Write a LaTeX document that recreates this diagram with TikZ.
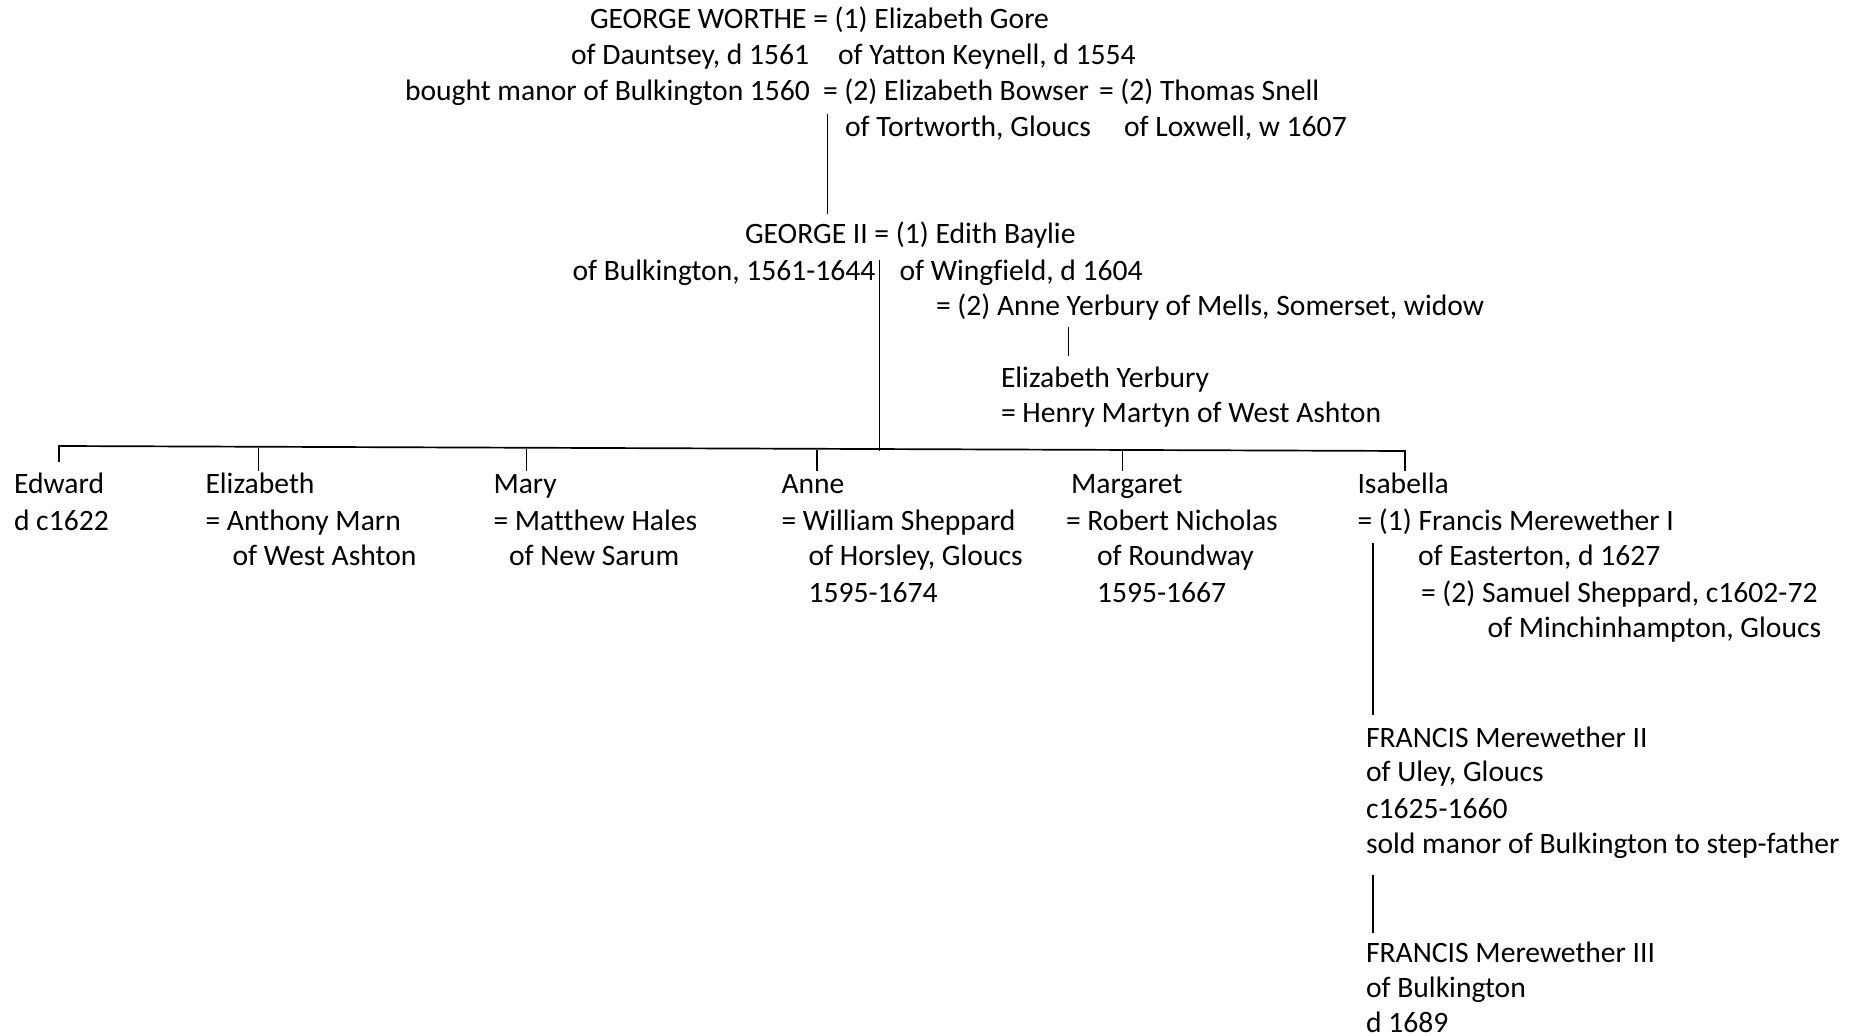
\documentclass[tikz,border=0pt]{standalone}
\usepackage{fontspec}
\setmainfont{Carlito}[Ligatures=CommonOff]
\begin{document}
\begin{tikzpicture}[x=0.5pt,y=-0.5pt,
  txt/.style={anchor=base west, inner sep=0pt, outer sep=0pt,
              font=\fontsize{14.8pt}{17.8pt}\selectfont},
  link/.style={line width=0.85pt, black}]
\fill[white] (0,0) rectangle (1851,1036);
\useasboundingbox (0,0) rectangle (1851,1036);

% first generation
\node[txt] (gw)      at (590,29)    {GEORGE WORTHE = (1) Elizabeth Gore};
\node[txt] (gwa)     at (571,64.5)  {of Dauntsey, d 1561};
\node[txt] (egore)   at (838,64.5)  {of Yatton Keynell, d 1554};
\node[txt] (gwb)     at (405,101)   {bought manor of Bulkington 1560};
\node[txt] (ebow)    at (823,101)   {= (2) Elizabeth Bowser};
\node[txt] (tsnell)  at (1099,101)  {= (2) Thomas Snell};
\node[txt] (ebowa)   at (845,136.5) {of Tortworth, Gloucs};
\node[txt] (tsnella) at (1124,136.5){of Loxwell, w 1607};

% second generation
\node[txt] (g2)      at (745,244)   {GEORGE II = (1) Edith Baylie};
\node[txt] (g2a)     at (572.5,280.5) {of Bulkington, 1561-1644};
\node[txt] (edith)   at (899.5,280.5) {of Wingfield, d 1604};
\node[txt] (anney)   at (936,316)   {= (2) Anne Yerbury of Mells, Somerset, widow};
\node[txt] (ey)      at (1001,388)  {Elizabeth Yerbury};
\node[txt] (eya)     at (1001,423)  {= Henry Martyn of West Ashton};

% children of George II
\node[txt] (edw)   at (14,494)     {Edward};
\node[txt] (edwa)  at (14,531)     {d c1622};
\node[txt] (eliz)  at (205.5,494)  {Elizabeth};
\node[txt] (eliza) at (205.5,531)  {= Anthony Marn};
\node[txt] (elizb) at (232.5,566)  {of West Ashton};
\node[txt] (mary)  at (493.5,494)  {Mary};
\node[txt] (marya) at (493.5,531)  {= Matthew Hales};
\node[txt] (maryb) at (509,566)    {of New Sarum};
\node[txt] (anne)  at (781.5,494)  {Anne};
\node[txt] (annea) at (781.5,531)  {= William Sheppard};
\node[txt] (anneb) at (808.5,566)  {of Horsley, Gloucs};
\node[txt] (annec) at (808.5,603)  {1595-1674};
\node[txt] (marg)  at (1071,494)   {Margaret};
\node[txt] (marga) at (1066,531)   {= Robert Nicholas};
\node[txt] (margb) at (1097,566)   {of Roundway};
\node[txt] (margc) at (1097,603)   {1595-1667};
\node[txt] (isab)  at (1357.5,494) {Isabella};
\node[txt] (isaba) at (1357.5,531) {= (1) Francis Merewether I};
\node[txt] (isabb) at (1418,566)   {of Easterton, d 1627};
\node[txt] (isabc) at (1421,603)   {= (2) Samuel Sheppard, c1602-72};
\node[txt] (isabd) at (1487.5,638) {of Minchinhampton, Gloucs};

% Merewether line
\node[txt] (fm2)  at (1366,747) {FRANCIS Merewether II};
\node[txt] (fm2a) at (1366,781) {of Uley, Gloucs};
\node[txt] (fm2b) at (1366,818) {c1625-1660};
\node[txt] (fm2c) at (1366,853) {sold manor of Bulkington to step-father};
\node[txt] (fm3)  at (1366,962) {FRANCIS Merewether III};
\node[txt] (fm3a) at (1366,997) {of Bulkington};
\node[txt] (fm3b) at (1366,1032){d 1689};

% line ends
\coordinate (d1a) at (827.5,114.5); \coordinate (d1b) at (827.5,213.7);
\coordinate (d2a) at (879.5,260);   \coordinate (d2b) at (879.5,451);
\coordinate (d3a) at (1068.5,327);  \coordinate (d3b) at (1068.5,356.5);
\coordinate (barL) at (59,446);     \coordinate (barR) at (1405,451);
\coordinate (d4a) at (1373,543);    \coordinate (d4b) at (1373,715);
\coordinate (d5a) at (1373,875);    \coordinate (d5b) at (1373,932.5);

\draw[link] (d1a) -- (d1b);
\draw[link] (d2a) -- (d2b);
\draw[link] (d3a) -- (d3b);
\draw[link] (barL |- 0,462) -- (barL) -- (barR) -- (barR |- 0,471);
\foreach \xx/\yy in {258.5/448, 526.5/449, 817/450, 1122.5/450}
  \draw[link] (\xx,\yy) -- (\xx,471);
\draw[link] (d4a) -- (d4b);
\draw[link] (d5a) -- (d5b);
\end{tikzpicture}
\end{document}
